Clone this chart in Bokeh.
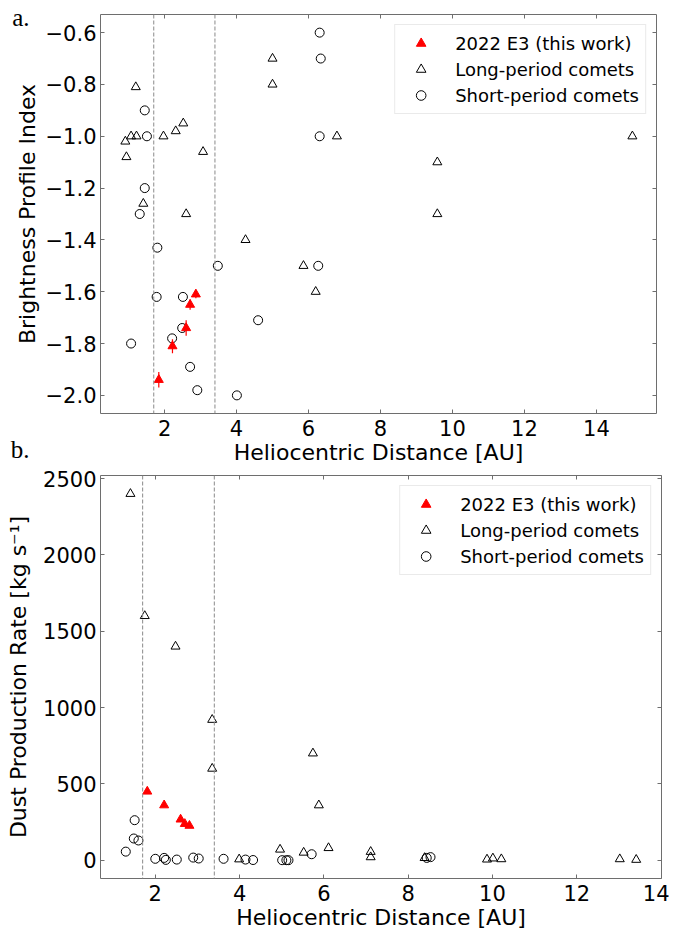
from bokeh.plotting import figure
from bokeh.models import (ColumnDataSource, Span, Legend, LegendItem,
                          LinearAxis, FixedTicker, CustomJSTickFormatter, Range1d)
from bokeh.layouts import column
from bokeh.embed import file_html
from bokeh.resources import INLINE

# ---------------- data: panel a (brightness profile index) ----------------
a_lpc_r = [1.20, 0.91, 1.07, 1.22, 0.94, 1.41, 1.97, 2.31, 2.52, 2.60,
           3.07, 4.25, 5.00, 5.00, 6.79, 5.86, 6.20, 9.58, 9.58, 15.0]
a_lpc_idx = [-0.81, -1.02, -1.00, -1.00, -1.08, -1.26, -1.00, -0.98, -0.95, -1.30,
             -1.06, -1.40, -0.70, -0.80, -1.00, -1.50, -1.60, -1.10, -1.30, -1.00]
a_spc_r = [6.31, 6.34, 6.31, 6.27, 1.45, 1.51, 1.45, 1.31, 1.80, 1.78,
           2.51, 2.49, 2.21, 1.07, 2.71, 2.91, 3.48, 4.01, 4.60]
a_spc_idx = [-0.60, -0.70, -1.00, -1.50, -0.90, -1.00, -1.20, -1.30, -1.43, -1.62,
             -1.62, -1.74, -1.78, -1.80, -1.89, -1.98, -1.50, -2.00, -1.71]
a_e3_r = [1.84, 2.22, 2.60, 2.71, 2.87]
a_e3_idx = [-1.94, -1.81, -1.74, -1.65, -1.61]
a_e3_err = [0.03, 0.027, 0.03, 0.02, 0.015]

# ---------------- data: panel b (dust production rate) ----------------
b_lpc_r = [1.41, 1.75, 2.48, 3.35, 3.35, 5.74, 5.88, 4.96, 5.52, 6.11,
           3.99, 7.11, 7.11, 8.39, 9.87, 10.01, 10.21, 13.02, 13.41]
b_lpc_q = [2400, 1600, 1400, 920, 600, 700, 360, 70, 50, 80,
           6, 55, 20, 15, 5, 12, 7, 7, 3]
b_spc_r = [1.30, 1.51, 1.49, 1.60, 2.00, 2.21, 2.25, 2.51, 2.90, 3.03,
           3.62, 4.14, 4.32, 5.01, 5.11, 5.16, 5.71, 8.44, 8.53]
b_spc_q = [56, 262, 142, 129, 9, 15, 2, 4, 17, 11,
           9, 4, 1, 0, 0, 0, 39, 15, 20]
b_e3_r = [1.81, 2.21, 2.60, 2.70, 2.81]
b_e3_q = [450, 360, 267, 238, 226]

# water-ice sublimation boundaries (AU)
bounds_au = [1.7, 3.4]

a_xticks = [2, 4, 6, 8, 10, 12, 14]
a_yticks = [-2.0, -1.8, -1.6, -1.4, -1.2, -1.0, -0.8, -0.6]
b_xticks = [2, 4, 6, 8, 10, 12, 14]
b_yticks = [0, 500, 1000, 1500, 2000, 2500]

legend_labels = ["2022 E3 (this work)", "Long-period comets", "Short-period comets"]
panel_tags = ["a.", "b."]
x_label = "Heliocentric Distance [AU]"
a_ylabel = "Brightness Profile Index"
b_ylabel = "Dust Production Rate [kg s\u207b\u00b9]"

FONT = "DejaVu Sans"
FRAME = "#6e6e6e"


def style_axis(ax, ticks, show_labels=True):
    ax.ticker = FixedTicker(ticks=ticks)
    ax.major_tick_in = 4
    ax.major_tick_out = 0
    ax.minor_tick_in = 0
    ax.minor_tick_out = 0
    ax.minor_tick_line_color = None
    ax.major_tick_line_color = FRAME
    ax.axis_line_color = None
    ax.major_label_text_font = FONT
    ax.major_label_text_font_size = "21px"
    ax.major_label_text_color = "black"
    ax.axis_label_text_font = FONT
    ax.axis_label_text_font_size = "22px"
    ax.axis_label_text_font_style = "normal"
    ax.axis_label_text_color = "black"
    if not show_labels:
        ax.formatter = CustomJSTickFormatter(code="return '';")
        ax.major_label_text_font_size = "0px"
        ax.major_label_standoff = 0


def make_panel(xr, yr, fw, fh, mbl, mbr, mbt, mbb, xticks, yticks, ylabel,
               yfmt=None, ylab_standoff=7):
    p = figure(x_range=Range1d(*xr), y_range=Range1d(*yr),
               frame_width=fw, frame_height=fh,
               min_border_left=mbl, min_border_right=mbr,
               min_border_top=mbt, min_border_bottom=mbb,
               output_backend="svg", toolbar_location=None,
               background_fill_color="white", border_fill_color="white")
    p.xgrid.grid_line_color = None
    p.ygrid.grid_line_color = None
    p.outline_line_color = FRAME
    p.outline_line_width = 1
    style_axis(p.xaxis[0], xticks)
    style_axis(p.yaxis[0], yticks)
    p.xaxis[0].axis_label = x_label
    p.xaxis[0].major_label_standoff = 6
    p.xaxis[0].axis_label_standoff = 1
    p.yaxis[0].axis_label = ylabel
    p.yaxis[0].major_label_standoff = 4
    p.yaxis[0].axis_label_standoff = ylab_standoff
    if yfmt is not None:
        p.yaxis[0].formatter = yfmt
    top = LinearAxis()
    style_axis(top, xticks, show_labels=False)
    p.add_layout(top, "above")
    right = LinearAxis()
    style_axis(right, yticks, show_labels=False)
    p.add_layout(right, "right")
    for b in bounds_au:
        p.add_layout(Span(location=b, dimension="height", line_color="#8a8a8a",
                          line_dash="4 2", line_width=1))
    return p


def add_series(p, lx, ly, sx, sy, ex, ey, err=None):
    r_lpc = p.scatter(x="x", y="y", source=ColumnDataSource(dict(x=lx, y=ly)),
                      marker="triangle", size=9, fill_color=None,
                      line_color="black", line_width=1)
    r_spc = p.scatter(x="x", y="y", source=ColumnDataSource(dict(x=sx, y=sy)),
                      marker="circle", size=9, fill_color=None,
                      line_color="black", line_width=1)
    if err is not None:
        src = ColumnDataSource(dict(x=ex, lo=[v - e for v, e in zip(ey, err)],
                                    hi=[v + e for v, e in zip(ey, err)]))
        p.segment(x0="x", y0="lo", x1="x", y1="hi", source=src,
                  line_color="red", line_width=1.2)
    r_e3 = p.scatter(x="x", y="y", source=ColumnDataSource(dict(x=ex, y=ey)),
                     marker="triangle", size=9, fill_color="red",
                     line_color="red", line_width=1)
    leg = Legend(items=[LegendItem(label=legend_labels[0], renderers=[r_e3]),
                        LegendItem(label=legend_labels[1], renderers=[r_lpc]),
                        LegendItem(label=legend_labels[2], renderers=[r_spc])],
                 location="top_right", margin=10, padding=6, spacing=2,
                 glyph_width=39, glyph_height=24, label_height=24,
                 label_standoff=15,
                 label_text_font=FONT, label_text_font_size="18px",
                 label_text_color="black",
                 border_line_color="#d6d6d6", border_line_width=1,
                 background_fill_color="white", background_fill_alpha=0.85)
    p.add_layout(leg)


yfmt_a = CustomJSTickFormatter(
    code="return (tick < 0 ? '\u2212' : '') + Math.abs(tick).toFixed(1);")

p1 = make_panel((0.22, 15.67), (-2.07, -0.53), 556, 399, 100, 13, 14, 52,
                a_xticks, a_yticks, a_ylabel, yfmt=yfmt_a, ylab_standoff=3)
add_series(p1, a_lpc_r, a_lpc_idx, a_spc_r, a_spc_idx, a_e3_r, a_e3_idx, a_e3_err)

# panel tags "a." / "b." drawn as labels of an outer, line-less left axis
tag_axis = LinearAxis(ticker=FixedTicker(ticks=[-0.54, -2.023]))
tag_axis.formatter = CustomJSTickFormatter(
    code="return tick > -1 ? '%s' : '\\n\\n\\n%s';" % (panel_tags[0], panel_tags[1]))
tag_axis.axis_line_color = None
tag_axis.major_tick_line_color = None
tag_axis.minor_tick_line_color = None
tag_axis.major_tick_in = 0
tag_axis.major_tick_out = 0
tag_axis.major_label_standoff = -18
tag_axis.major_label_text_font = "Liberation Serif"
tag_axis.major_label_text_font_size = "25px"
tag_axis.major_label_text_color = "black"
p1.add_layout(tag_axis, "left")

p2 = make_panel((0.70, 14.01), (-120, 2520), 561, 403, 99, 9, 8, 0,
                b_xticks, b_yticks, b_ylabel, ylab_standoff=9)
add_series(p2, b_lpc_r, b_lpc_q, b_spc_r, b_spc_q, b_e3_r, b_e3_q)

layout = column(p1, p2, spacing=0)
open("out.html", "w").write(file_html(layout, INLINE))
